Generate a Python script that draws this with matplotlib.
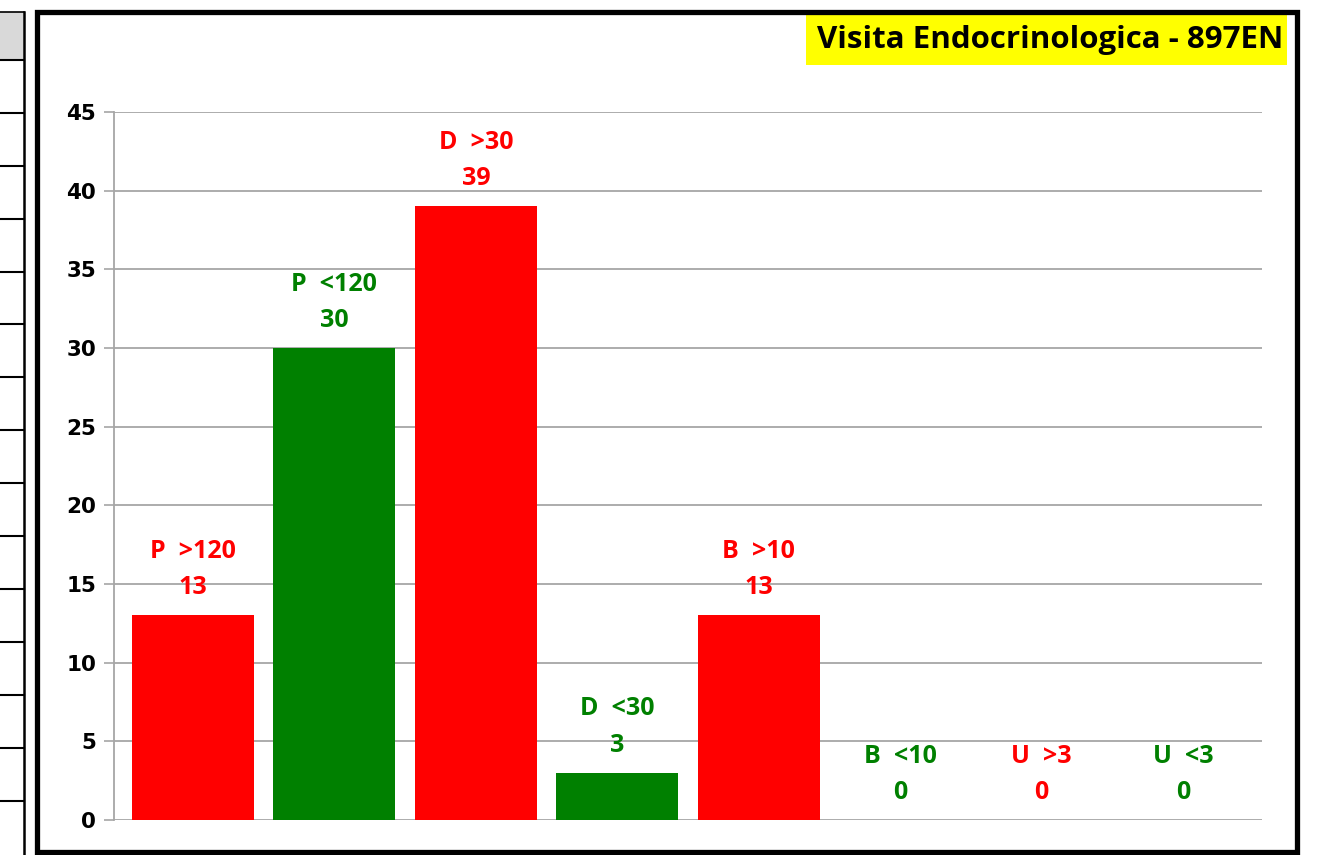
import matplotlib.pyplot as plt
from matplotlib.patches import Rectangle
from matplotlib.lines import Line2D

categories = ['P  >120', 'P  <120', 'D  >30', 'D  <30', 'B  >10', 'B  <10', 'U  >3', 'U  <3']
values = [13, 30, 39, 3, 13, 0, 0, 0]
colors = ['#ff0000', '#008000', '#ff0000', '#008000', '#ff0000', '#008000', '#ff0000', '#008000']
yticks = [0, 5, 10, 15, 20, 25, 30, 35, 40, 45]
title = 'Visita Endocrinologica - 897EN'

W, H = 1327, 855
fig = plt.figure(figsize=(W / 100, H / 100), dpi=100)
fig.patch.set_facecolor('white')

# partial table at the far left edge
fig.patches.append(Rectangle((0, 1 - 60 / H), 24 / W, 48 / H, transform=fig.transFigure,
                             facecolor='#d9d9d9', edgecolor='none'))
fig.lines.append(Line2D([24 / W, 24 / W], [0, 1 - 12 / H], transform=fig.transFigure,
                        color='black', lw=1.8))
fig.lines.append(Line2D([0, 24 / W], [1 - 12 / H, 1 - 12 / H], transform=fig.transFigure,
                        color='black', lw=1.2))
for k in range(15):
    yy = 1 - (60 + 52.9 * k) / H
    fig.lines.append(Line2D([0, 24 / W], [yy, yy], transform=fig.transFigure,
                            color='black', lw=1.5))

# chart frame
fig.patches.append(Rectangle((37 / W, 1 - 852 / H), 1260 / W, 840 / H, transform=fig.transFigure,
                             facecolor='none', edgecolor='black', lw=3.8, zorder=5))

ax = fig.add_axes([114 / W, 1 - 820 / H, 1148 / W, 708 / H])
x = list(range(len(categories)))
ax.bar(x, values, width=0.863, color=colors, zorder=3)

ax.set_ylim(0, 45)
ax.set_xlim(-0.559, 7.56)
ax.set_yticks(yticks)
ax.set_yticklabels([str(t) for t in yticks], fontsize=15.5, fontweight='bold', family='DejaVu Sans')
ax.set_xticks([])
ax.yaxis.grid(True, color='#a6a6a6', lw=1.3, zorder=0)
ax.tick_params(axis='y', length=7, width=1.2, color='#a6a6a6', pad=6)
for s in ['top', 'right', 'bottom']:
    ax.spines[s].set_visible(False)
ax.spines['left'].set_color('#a6a6a6')
ax.spines['left'].set_linewidth(1.3)

for xi, v, c, lab in zip(x, values, colors, categories):
    ax.annotate(str(v), (xi, v), xytext=(0, 20), textcoords='offset points',
                ha='center', va='center', color=c, fontsize=18, fontweight='bold',
                family='Open Sans')
    ax.annotate(lab, (xi, v), xytext=(0, 46), textcoords='offset points',
                ha='center', va='center', color=c, fontsize=18, fontweight='bold',
                family='Open Sans')

fig.patches.append(Rectangle((806 / W, 1 - 65 / H), 481 / W, 50 / H, transform=fig.transFigure,
                             facecolor='#ffff00', edgecolor='none', zorder=4))
fig.text(1283 / W, 1 - 40 / H, title, ha='right', va='center', fontsize=22.5,
         fontweight='bold', family='Open Sans', color='black', zorder=6)

fig.savefig('out.png', dpi=100)
